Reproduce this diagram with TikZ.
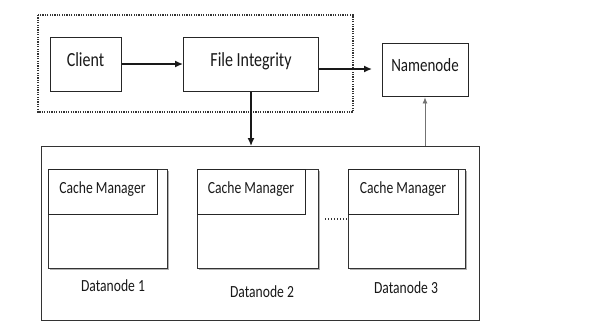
\documentclass[tikz,border=0pt]{standalone}
\usepackage{fontspec}
\setmainfont{Carlito}
\usetikzlibrary{arrows.meta}
\newcommand{\tallt}[1]{\scalebox{1}[1.25]{#1}}
\begin{document}
\begin{tikzpicture}[x=1pt,y=-1pt,
  box/.style={draw=black!85,line width=1.4pt,inner sep=0pt},
  dnbox/.style={draw=black!80,line width=1.2pt},
  lbl/.style={font=\fontsize{13.6}{15}\selectfont,inner sep=0pt,text=black!90},
  toplbl/.style={font=\fontsize{16}{18}\selectfont,inner sep=0pt,text=black!90},
  arr/.style={-{Latex[length=8pt,width=7pt]},line width=1.4pt,draw=black!90},
  garr/.style={-{Latex[length=6pt,width=5pt]},line width=0.8pt,draw=black!55}]
\useasboundingbox (0,0) rectangle (613,330);
\fill[white] (0,0) rectangle (613,330);
% dashed group
\draw[line width=1.1pt,dash pattern=on 1.2pt off 1.2pt,black!80] (38,15) rectangle (353,112);
% top nodes
\node[box,minimum width=71pt,minimum height=54pt,anchor=north west] (client) at (50,37) {};
\node[toplbl] (clientT) at (85.5,60) {\tallt{Client}};
\node[box,minimum width=135pt,minimum height=54pt,anchor=north west] (fi) at (183,37) {};
\node[toplbl] (fiT) at (251,61) {\tallt{File Integrity}};
\node[box,minimum width=86pt,minimum height=53pt,anchor=north west] (nn) at (382,43) {};
\node[toplbl,font=\fontsize{15}{17}\selectfont] (nnT) at (425,65) {\tallt{Namenode}};
% big box
\node[draw=black!80,line width=1.3pt,minimum width=438pt,minimum height=174pt,anchor=north west,inner sep=0pt] (big) at (41,146) {};
% datanodes
\foreach \i/\x/\w/\cw/\lx/\ly in {1/48/119/109/113/286, 2/197/121/108/262/292, 3/348/117/110/406/288}{
  \fill[black!30] (\x+1.5,170.5) rectangle (\x+\w+1.5,269.5);
  \node[dnbox,fill=white,minimum width=\w pt,minimum height=99pt,anchor=north west,inner sep=0pt] (dn\i) at (\x,169) {};
  \node[box,fill=white,line width=1.3pt,minimum width=\cw pt,minimum height=45pt,anchor=north west] (cm\i) at (\x,169) {};
  \node[lbl] (cmT\i) at (\x+\cw/2,189) {\tallt{Cache Manager}};
  \node[lbl] (dnT\i) at (\lx,\ly) {\tallt{Datanode \i}};
}
% dots
\coordinate (dotA) at (325,219);
\draw[line width=1.3pt,dash pattern=on 1.3pt off 1.7pt,black!80] (dotA) -- (dn3.west |- dotA);
% arrows
\draw[arr] (client.east |- 0,64) -- (fi.west |- 0,64);
\coordinate (nnIn) at (372,69);
\draw[arr] (fi.east |- nnIn) -- (nnIn);
\draw[arr] (fi.south -| 251,0) -- (big.north -| 251,0);
\draw[garr] (big.north -| 425,0) -- (nn.south -| 425,0);
\end{tikzpicture}
\end{document}
